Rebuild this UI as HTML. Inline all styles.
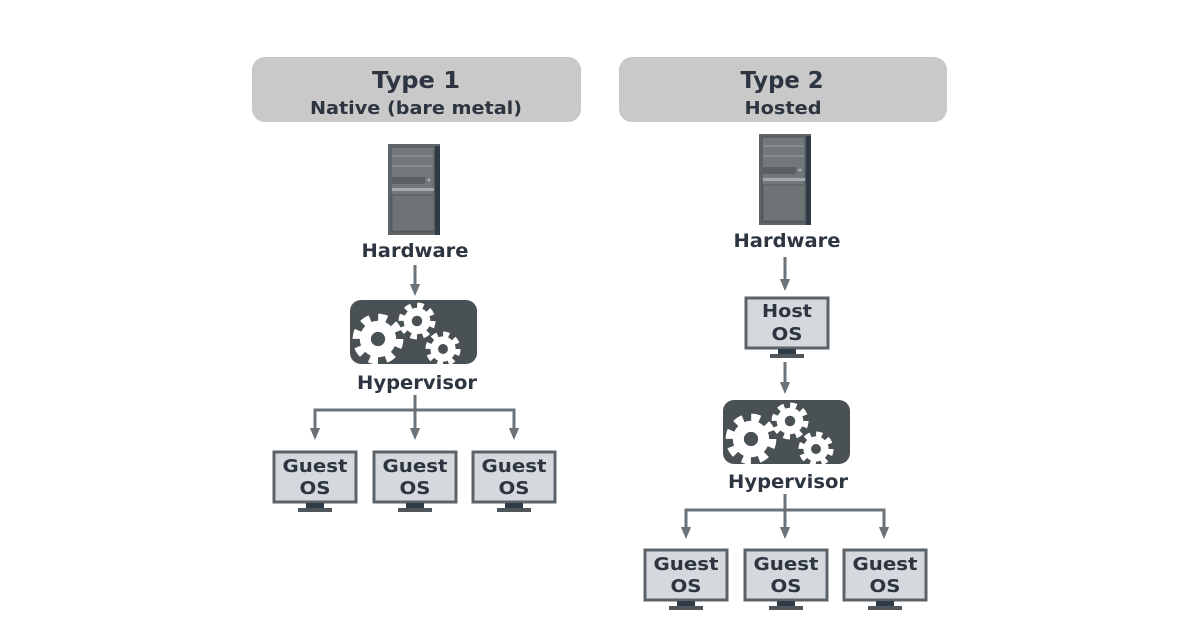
<!DOCTYPE html>
<html><head><meta charset="utf-8"><style>
html,body{margin:0;padding:0;background:#fff}
svg{display:block}
text{font-family:"DejaVu Sans","Liberation Sans",sans-serif;font-weight:bold;fill:#2c3540;text-anchor:middle}
</style></head><body>
<svg width="1200" height="630" viewBox="0 0 1200 630" xmlns="http://www.w3.org/2000/svg">
<defs>
<marker id="ah" markerWidth="4" markerHeight="4" refX="2" refY="2" orient="auto" markerUnits="strokeWidth">
<path d="M0,0.3 L4,2 L0,3.7 Z" fill="#6b7378"/></marker>
<g id="server">
<rect x="0" y="0" width="52" height="91" fill="#5f6568"/>
<rect x="47" y="2" width="5" height="89" fill="#2e3a45"/>
<rect x="3" y="3" width="43" height="85" fill="#72777a" stroke="#4f5558" stroke-width="1"/>
<line x1="4" y1="12" x2="45" y2="12" stroke="#979ca0" stroke-width="1"/>
<line x1="4" y1="22" x2="45" y2="22" stroke="#979ca0" stroke-width="1"/>
<rect x="4" y="33" width="33" height="7" fill="#5a5f62"/>
<circle cx="41" cy="36" r="1.5" fill="#aab0b4"/>
<rect x="4" y="44" width="42" height="3" fill="#a3a9ad"/>
<rect x="4" y="51" width="42" height="36" fill="#6e7376" stroke="#555b5e" stroke-width="1"/>
</g>
<g id="mon">
<rect x="-41" y="0" width="82" height="50" fill="#d5d9dd" stroke="#5c6368" stroke-width="3"/>
<rect x="-9" y="51" width="18" height="6" fill="#2f3b47"/>
<rect x="-17" y="56" width="34" height="4" fill="#4f575c"/>
</g>
<g id="gear">
<circle r="14" fill="#fff"/>
<circle r="16" fill="none" stroke="#fff" stroke-width="7" stroke-dasharray="6.5 6.07"/>
<circle r="5.5" fill="#4a5155"/>
</g>
<g id="hyp">
<rect x="0" y="0" width="127" height="64" rx="11" fill="#4a5155"/>
<use href="#gear" transform="translate(28,39) scale(1.3)"/>
<use href="#gear" transform="translate(67,21) scale(0.95)"/>
<use href="#gear" transform="translate(93,49) scale(0.9)"/>
</g>
</defs>

<rect x="252" y="57" width="329" height="65" rx="13" fill="#c9c9c9"/>
<text x="416" y="88" font-size="23" textLength="88" lengthAdjust="spacingAndGlyphs">Type 1</text>
<text x="416" y="114" font-size="18" textLength="212" lengthAdjust="spacingAndGlyphs">Native (bare metal)</text>
<rect x="619" y="57" width="328" height="65" rx="13" fill="#c9c9c9"/>
<text x="782" y="88" font-size="23" textLength="83" lengthAdjust="spacingAndGlyphs">Type 2</text>
<text x="783" y="114" font-size="18" textLength="77" lengthAdjust="spacingAndGlyphs">Hosted</text>

<g stroke="#6b7378" stroke-width="3" fill="none">
<line x1="415" y1="265" x2="415" y2="290" marker-end="url(#ah)"/>
<line x1="415" y1="395" x2="415" y2="434" marker-end="url(#ah)"/>
<polyline points="315,434 315,410 514,410 514,434"/>
<line x1="315" y1="430" x2="315" y2="434" marker-end="url(#ah)"/>
<line x1="514" y1="430" x2="514" y2="434" marker-end="url(#ah)"/>
<line x1="785" y1="257" x2="785" y2="285" marker-end="url(#ah)"/>
<line x1="785" y1="362" x2="785" y2="388" marker-end="url(#ah)"/>
<line x1="785" y1="494" x2="785" y2="533" marker-end="url(#ah)"/>
<polyline points="686,533 686,510 884,510 884,533"/>
<line x1="686" y1="529" x2="686" y2="533" marker-end="url(#ah)"/>
<line x1="884" y1="529" x2="884" y2="533" marker-end="url(#ah)"/>
</g>

<use href="#server" x="388" y="144"/>
<text x="415" y="257" font-size="19" textLength="107" lengthAdjust="spacingAndGlyphs">Hardware</text>
<use href="#hyp" x="350" y="300"/>
<text x="417" y="389" font-size="19" textLength="120" lengthAdjust="spacingAndGlyphs">Hypervisor</text>
<use href="#mon" x="315" y="452"/>
<use href="#mon" x="415" y="452"/>
<use href="#mon" x="514" y="452"/>
<g font-size="18">
<text x="315" y="472" textLength="65" lengthAdjust="spacingAndGlyphs">Guest</text><text x="315" y="494" textLength="31" lengthAdjust="spacingAndGlyphs">OS</text>
<text x="415" y="472" textLength="65" lengthAdjust="spacingAndGlyphs">Guest</text><text x="415" y="494" textLength="31" lengthAdjust="spacingAndGlyphs">OS</text>
<text x="514" y="472" textLength="65" lengthAdjust="spacingAndGlyphs">Guest</text><text x="514" y="494" textLength="31" lengthAdjust="spacingAndGlyphs">OS</text>
</g>

<use href="#server" x="759" y="134"/>
<text x="787" y="247" font-size="19" textLength="107" lengthAdjust="spacingAndGlyphs">Hardware</text>
<use href="#mon" x="787" y="298"/>
<text x="787" y="317" font-size="18" textLength="50" lengthAdjust="spacingAndGlyphs">Host</text><text x="787" y="340" font-size="18" textLength="31" lengthAdjust="spacingAndGlyphs">OS</text>
<use href="#hyp" x="723" y="400"/>
<text x="788" y="488" font-size="19" textLength="120" lengthAdjust="spacingAndGlyphs">Hypervisor</text>
<use href="#mon" x="686" y="550"/>
<use href="#mon" x="786" y="550"/>
<use href="#mon" x="885" y="550"/>
<g font-size="18">
<text x="686" y="570" textLength="65" lengthAdjust="spacingAndGlyphs">Guest</text><text x="686" y="592" textLength="31" lengthAdjust="spacingAndGlyphs">OS</text>
<text x="786" y="570" textLength="65" lengthAdjust="spacingAndGlyphs">Guest</text><text x="786" y="592" textLength="31" lengthAdjust="spacingAndGlyphs">OS</text>
<text x="885" y="570" textLength="65" lengthAdjust="spacingAndGlyphs">Guest</text><text x="885" y="592" textLength="31" lengthAdjust="spacingAndGlyphs">OS</text>
</g>
</svg>
</body></html>
